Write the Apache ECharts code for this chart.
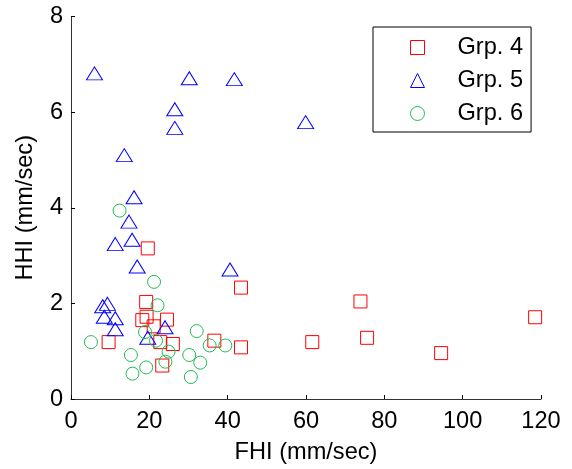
<!DOCTYPE html>
<html>
<head>
<meta charset="utf-8">
<script src="https://cdn.jsdelivr.net/npm/echarts@6/dist/echarts.min.js"></script>
<style>
  html, body { margin: 0; padding: 0; background: #fff; }
  #chart { width: 572px; height: 469px; }
</style>
</head>
<body>
<div id="chart"></div>
<script>
// FHI (x) vs HHI (y), mm/sec
const grp4 = [
  [19.6, 3.15], [43.4, 2.33], [73.9, 2.04], [118.5, 1.71], [19.2, 2.03],
  [19.3, 1.72], [18.2, 1.65], [24.5, 1.66], [21.1, 1.52], [9.6, 1.19],
  [22.8, 1.19], [26.0, 1.15], [36.6, 1.22], [43.4, 1.08], [61.6, 1.19],
  [75.6, 1.28], [94.5, 0.96], [23.3, 0.70]
];
const grp5 = [
  [6.0, 6.81], [30.2, 6.71], [41.7, 6.69], [26.5, 6.06], [26.5, 5.67],
  [13.6, 5.10], [59.9, 5.79], [16.1, 4.22], [14.8, 3.71], [15.6, 3.33],
  [11.3, 3.24], [16.9, 2.77], [40.6, 2.71], [9.3, 1.99], [8.1, 1.94],
  [8.5, 1.72], [11.3, 1.69], [11.3, 1.46], [24.0, 1.50], [19.6, 1.28]
];
const grp6 = [
  [12.4, 3.94], [21.2, 2.45], [22.1, 1.96], [18.9, 1.40], [21.7, 1.22],
  [5.1, 1.19], [24.9, 0.99], [15.3, 0.92], [24.1, 0.78], [19.2, 0.66],
  [15.7, 0.53], [32.1, 1.42], [35.4, 1.12], [39.4, 1.12], [30.2, 0.92],
  [33.0, 0.76], [30.6, 0.46]
];
const groupNames = ['Grp. 4', 'Grp. 5', 'Grp. 6'];

const font = 'Liberation Sans, Arial, sans-serif';
const fs = 23.6;
const chart = echarts.init(document.getElementById('chart'), null, { renderer: 'canvas' });

function hollow(name, data, symbol, size, color) {
  return {
    name: name,
    type: 'scatter',
    data: data,
    symbol: symbol,
    symbolSize: size,
    itemStyle: { color: 'rgba(0,0,0,0)', borderColor: color, borderWidth: 1, opacity: 1 },
    emphasis: { disabled: true },
    animation: false
  };
}

const axisCommon = {
  axisLine: { show: true, lineStyle: { color: '#333', width: 1 } },
  axisTick: { show: true, inside: true, length: 4, lineStyle: { color: '#000' } },
  axisLabel: { color: '#000', fontSize: fs, fontFamily: font },
  splitLine: { show: false },
  nameTextStyle: { color: '#000', fontSize: fs, fontFamily: font }
};

chart.setOption({
  backgroundColor: '#fff',
  grid: { left: 71, right: 31, top: 16.5, bottom: 68.7 },
  xAxis: Object.assign({}, axisCommon, {
    type: 'value', min: 0, max: 120, interval: 20,
    name: 'FHI (mm/sec)', nameLocation: 'middle', nameGap: 41,
    axisLabel: Object.assign({}, axisCommon.axisLabel, { margin: 10 })
  }),
  yAxis: Object.assign({}, axisCommon, {
    type: 'value', min: 0, max: 8, interval: 2,
    name: 'HHI (mm/sec)', nameLocation: 'middle', nameGap: 34,
    axisLabel: Object.assign({}, axisCommon.axisLabel, { margin: 8 })
  }),
  legend: {
    orient: 'vertical',
    left: 373, top: 27,
    padding: [8.5, 8, 6.5, 37],
    itemGap: 9,
    itemWidth: 14, itemHeight: 14,
    backgroundColor: '#fff',
    borderColor: '#000', borderWidth: 1,
    itemStyle: { borderWidth: 1 },
    textStyle: { color: '#000', fontSize: fs, fontFamily: font, lineHeight: 24, padding: [0, 0, 0, 28] },
    data: groupNames
  },
  series: [
    hollow(groupNames[0], grp4, 'rect', 13, '#ff0000'),
    hollow(groupNames[1], grp5, 'triangle', [16, 13], '#0000ff'),
    hollow(groupNames[2], grp6, 'circle', 13, '#22bb55')
  ]
});
</script>
</body>
</html>
